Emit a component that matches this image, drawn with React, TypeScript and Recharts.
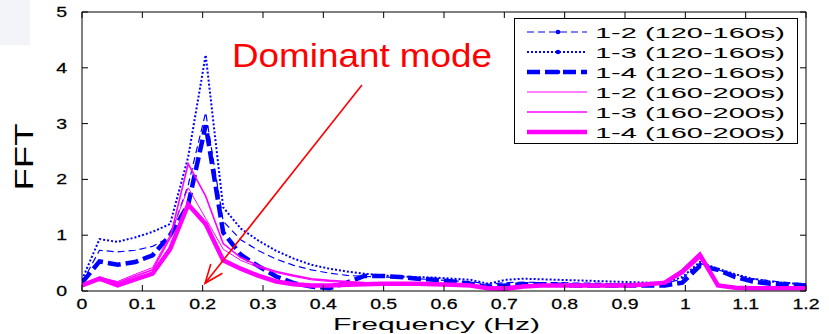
import React from 'react';
import { LineChart, Line, XAxis, YAxis, ReferenceLine } from 'recharts';

// frequency bins (Hz)
const freq = [
  0, 0.029, 0.059, 0.088, 0.117, 0.146, 0.176, 0.205, 0.234, 0.263, 0.293, 0.322, 0.351, 0.38,
  0.41, 0.439, 0.468, 0.498, 0.527, 0.556, 0.585, 0.615, 0.644, 0.673, 0.702, 0.732, 0.761, 0.79,
  0.82, 0.849, 0.878, 0.907, 0.937, 0.966, 0.995, 1.024, 1.054, 1.083, 1.112, 1.141, 1.171, 1.2,
];

// 120-160s window
const dash12 = [
  0.15, 0.73, 0.7, 0.73, 0.8, 0.97, 1.9, 3.2, 1.25, 0.92, 0.72, 0.57, 0.46, 0.38, 0.32, 0.28, 0.26,
  0.25, 0.24, 0.22, 0.2, 0.18, 0.17, 0.12, 0.15, 0.16, 0.15, 0.15, 0.14, 0.14, 0.13, 0.13, 0.12,
  0.13, 0.22, 0.5, 0.38, 0.28, 0.22, 0.18, 0.15, 0.13,
];
const dot13 = [
  0.2, 0.93, 0.88, 0.96, 1.06, 1.2, 2.4, 4.23, 1.5, 1.12, 0.9, 0.72, 0.58, 0.47, 0.4, 0.35, 0.31,
  0.28, 0.26, 0.25, 0.24, 0.22, 0.2, 0.13, 0.2, 0.22, 0.21, 0.2, 0.19, 0.18, 0.17, 0.16, 0.15,
  0.15, 0.25, 0.52, 0.4, 0.3, 0.22, 0.17, 0.14, 0.12,
];
const dash14 = [
  0.15, 0.53, 0.47, 0.52, 0.64, 1.0, 1.55, 2.97, 1.05, 0.65, 0.44, 0.26, 0.14, 0.08, 0.05, 0.15,
  0.27, 0.27, 0.25, 0.22, 0.2, 0.17, 0.13, 0.07, 0.1, 0.12, 0.12, 0.11, 0.1, 0.1, 0.1, 0.1, 0.1,
  0.1, 0.15, 0.45, 0.38, 0.25, 0.17, 0.13, 0.11, 0.1,
];

// 160-200s window
const mag12 = [
  0.12, 0.24, 0.17, 0.3, 0.42, 1.0, 1.85, 1.3, 0.75, 0.55, 0.42, 0.33, 0.26, 0.2, 0.17, 0.15, 0.14,
  0.13, 0.13, 0.13, 0.12, 0.12, 0.1, 0.07, 0.08, 0.1, 0.1, 0.1, 0.1, 0.1, 0.1, 0.11, 0.12, 0.15,
  0.3, 0.58, 0.12, 0.07, 0.06, 0.05, 0.05, 0.05,
];
const mag13 = [
  0.1, 0.25, 0.15, 0.27, 0.38, 0.95, 2.28, 1.7, 0.85, 0.6, 0.45, 0.35, 0.28, 0.22, 0.19, 0.17, 0.15,
  0.14, 0.13, 0.13, 0.13, 0.12, 0.1, 0.06, 0.07, 0.1, 0.11, 0.11, 0.11, 0.11, 0.11, 0.11, 0.12,
  0.16, 0.32, 0.6, 0.12, 0.07, 0.06, 0.05, 0.05, 0.05,
];
const mag14 = [
  0.1, 0.22, 0.1, 0.21, 0.31, 0.75, 1.55, 1.2, 0.55, 0.4, 0.27, 0.17, 0.12, 0.1, 0.1, 0.11, 0.12,
  0.13, 0.13, 0.13, 0.12, 0.11, 0.1, 0.05, 0.04, 0.08, 0.1, 0.1, 0.1, 0.1, 0.1, 0.1, 0.12, 0.15,
  0.35, 0.65, 0.1, 0.06, 0.05, 0.05, 0.05, 0.05,
];

const xTicks = [0, 0.1, 0.2, 0.3, 0.4, 0.5, 0.6, 0.7, 0.8, 0.9, 1, 1.1, 1.2];
const yTicks = [0, 1, 2, 3, 4, 5];
const X_MAX = 1.2;
const Y_MAX = 5;

const BLUE = '#0000ff';
const MAGENTA = '#ff00ff';
const FONT = '"Liberation Sans", Arial, sans-serif';

const series = [
  { key: 'a', name: '1-2 (120-160s)', color: BLUE, width: 1.2, dash: '7 4', dot: true },
  { key: 'b', name: '1-3 (120-160s)', color: BLUE, width: 2, dash: '2 2', dot: true },
  { key: 'c', name: '1-4 (120-160s)', color: BLUE, width: 4.5, dash: '13 5', dot: true },
  { key: 'd', name: '1-2 (160-200s)', color: MAGENTA, width: 1, dash: undefined, dot: false },
  { key: 'e', name: '1-3 (160-200s)', color: MAGENTA, width: 1.6, dash: undefined, dot: false },
  { key: 'f2', name: '1-4 (160-200s)', color: MAGENTA, width: 4.5, dash: undefined, dot: false },
];

const data = freq.map((f, i) => ({
  f,
  a: dash12[i],
  b: dot13[i],
  c: dash14[i],
  d: mag12[i],
  e: mag13[i],
  f2: mag14[i],
}));

const fmt = (v: number) => String(Math.round(v * 10) / 10);

const XTick = (props: any) => {
  const { x, y, payload } = props;
  return (
    <g transform={`translate(${x},${y}) scale(1.3,1)`}>
      <text x={0} y={12} textAnchor="middle" fontSize={15} fontFamily={FONT} fill="#000" stroke="#000" strokeWidth={0.25}>
        {fmt(payload.value)}
      </text>
    </g>
  );
};

const YTick = (props: any) => {
  const { x, y, payload } = props;
  return (
    <g transform={`translate(${x},${y}) scale(1.3,1)`}>
      <text x={0} y={5} textAnchor="end" fontSize={15} fontFamily={FONT} fill="#000" stroke="#000" strokeWidth={0.25}>
        {fmt(payload.value)}
      </text>
    </g>
  );
};

// top frame edge with inward ticks
const TopEdge = (props: any) => {
  const { x1, y1, x2 } = props;
  const left = Math.min(x1, x2);
  const right = Math.max(x1, x2);
  return (
    <g stroke="#000" strokeWidth={1}>
      <line x1={left} y1={y1} x2={right} y2={y1} />
      {xTicks.map((t) => {
        const px = left + ((right - left) * t) / X_MAX;
        return <line key={t} x1={px} x2={px} y1={y1} y2={y1 + 6} />;
      })}
    </g>
  );
};

// right frame edge with inward ticks
const RightEdge = (props: any) => {
  const { x1, y1, y2 } = props;
  const top = Math.min(y1, y2);
  const bottom = Math.max(y1, y2);
  return (
    <g stroke="#000" strokeWidth={1}>
      <line x1={x1} y1={top} x2={x1} y2={bottom} />
      {yTicks.map((t) => {
        const py = bottom - ((bottom - top) * t) / Y_MAX;
        return <line key={t} x1={x1 - 6} x2={x1} y1={py} y2={py} />;
      })}
    </g>
  );
};

// red annotation arrow with an open head
const ArrowShape = (props: any) => {
  const { x1, y1, x2, y2 } = props;
  const ang = Math.atan2(y2 - y1, x2 - x1);
  const len = 20;
  const spread = 0.38;
  const h1x = x2 - len * Math.cos(ang - spread);
  const h1y = y2 - len * Math.sin(ang - spread);
  const h2x = x2 - len * Math.cos(ang + spread);
  const h2y = y2 - len * Math.sin(ang + spread);
  return (
    <g stroke="#ff0000" strokeWidth={1.6} fill="none">
      <line x1={x1} y1={y1} x2={x2} y2={y2} />
      <polyline points={`${h1x},${h1y} ${x2},${y2} ${h2x},${h2y}`} />
    </g>
  );
};

const LegendBox = () => (
  <svg
    width={284}
    height={126}
    style={{ position: 'absolute', left: 514, top: 18 }}
  >
    <rect x={0.5} y={0.5} width={283} height={125} fill="#fff" stroke="#000" strokeWidth={1} />
    {series.map((s, i) => {
      const cy = 14 + i * 20;
      return (
        <g key={s.key}>
          <line
            x1={13}
            x2={73}
            y1={cy}
            y2={cy}
            stroke={s.color}
            strokeWidth={s.width}
            strokeDasharray={s.dash}
          />
          {s.dot && <circle cx={44} cy={cy} r={2.3} fill={s.color} />}
          <text
            x={81}
            y={cy + 6}
            fontSize={15}
            fontFamily={FONT}
            textLength={190}
            lengthAdjust="spacingAndGlyphs"
            fill="#000"
          >
            {s.name}
          </text>
        </g>
      );
    })}
  </svg>
);

export default function App() {
  return (
    <div
      style={{
        position: 'absolute',
        left: 0,
        top: 0,
        width: 829,
        height: 334,
        background: '#fff',
        fontFamily: FONT,
        overflow: 'hidden',
      }}
    >
      <div style={{ position: 'absolute', left: 0, top: 0, width: 30, height: 45, background: '#f3f4f9' }} />
      <LineChart
        width={829}
        height={334}
        data={data}
        margin={{ top: 12, right: 23, bottom: 0, left: 0 }}
      >
        <XAxis
          dataKey="f"
          type="number"
          domain={[0, X_MAX]}
          ticks={xTicks}
          allowDataOverflow
          height={43}
          stroke="#000"
          tickSize={-6}
          tickMargin={12}
          tick={<XTick />}
        />
        <YAxis
          type="number"
          domain={[0, Y_MAX]}
          ticks={yTicks}
          allowDataOverflow
          width={82}
          stroke="#000"
          tickSize={-6}
          tickMargin={21}
          tick={<YTick />}
        />
        <Line dataKey="a" stroke={BLUE} strokeWidth={1.2} strokeDasharray="7 4" dot={false} isAnimationActive={false} />
        <Line dataKey="b" stroke={BLUE} strokeWidth={2} strokeDasharray="2 2" dot={false} isAnimationActive={false} />
        <Line dataKey="c" stroke={BLUE} strokeWidth={4.5} strokeDasharray="13 5" dot={false} isAnimationActive={false} />
        <Line dataKey="d" stroke={MAGENTA} strokeWidth={1} dot={false} isAnimationActive={false} />
        <Line dataKey="e" stroke={MAGENTA} strokeWidth={1.6} dot={false} isAnimationActive={false} />
        <Line dataKey="f2" stroke={MAGENTA} strokeWidth={4.5} dot={false} isAnimationActive={false} />
        <ReferenceLine y={Y_MAX} ifOverflow="visible" shape={TopEdge} />
        <ReferenceLine x={X_MAX} ifOverflow="visible" shape={RightEdge} />
        <ReferenceLine
          segment={[
            { x: 0.464, y: 3.69 },
            { x: 0.204, y: 0.14 },
          ]}
          shape={ArrowShape}
        />
      </LineChart>
      <LegendBox />
      <svg width={829} height={334} style={{ position: 'absolute', left: 0, top: 0, pointerEvents: 'none' }}>
        <text
          x={232}
          y={67}
          fontSize={33}
          fontFamily={FONT}
          fill="#ff0000"
          textLength={260}
          lengthAdjust="spacingAndGlyphs"
        >
          Dominant mode
        </text>
        <text
          transform="translate(33,157) rotate(-90)"
          textAnchor="middle"
          fontSize={25}
          fontFamily={FONT}
          fill="#000"
          textLength={67}
          lengthAdjust="spacingAndGlyphs"
        >
          FFT
        </text>
        <text
          x={333}
          y={330}
          fontSize={16}
          fontFamily={FONT}
          fill="#000"
          textLength={207}
          lengthAdjust="spacingAndGlyphs"
        >
          Frequency (Hz)
        </text>
      </svg>
    </div>
  );
}
